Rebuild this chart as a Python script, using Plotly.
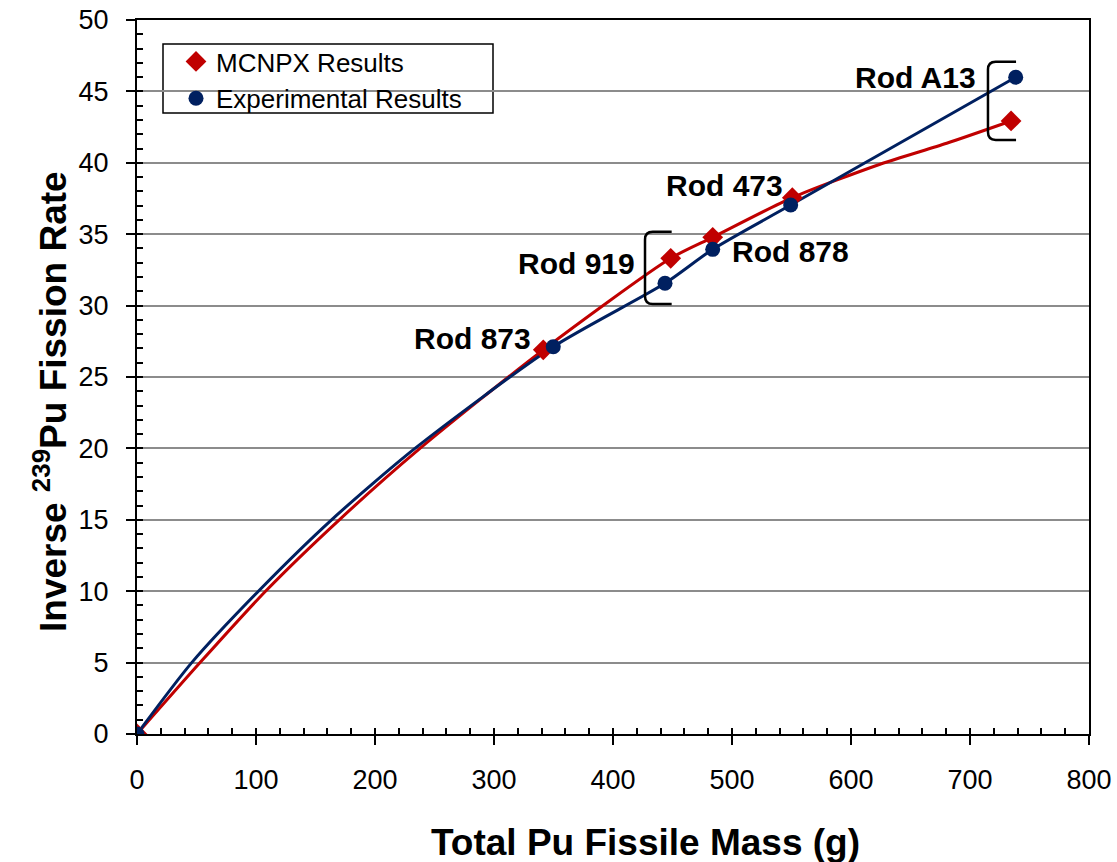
import plotly.graph_objects as go

# ---- data ----
rods = ["Origin", "Rod 873", "Rod 919", "Rod 878", "Rod 473", "Rod A13"]
mcnpx_mass = [0, 341.4, 448.5, 483.8, 550.7, 734.5]
mcnpx_rate = [0, 26.9, 33.31, 34.78, 37.56, 42.93]
exp_mass = [0, 349.8, 443.7, 483.8, 549.3, 738.4]
exp_rate = [0, 27.12, 31.56, 33.94, 37.04, 45.99]

# smoothed curves
mcnpx_curve_x = [0, 53, 108, 170, 237.8, 341.4, 448.5, 483.8, 550.7, 624.4, 680.4, 734.5]
mcnpx_curve_y = [0, 5, 10, 15, 20, 26.9, 33.31, 34.78, 37.56, 39.9, 41.37, 42.93]
exp_curve_x = [0, 46, 102, 163.5, 233.6, 349.8, 443.7, 483.8, 549.3, 738.4]
exp_curve_y = [0, 5, 10, 15, 20, 27.12, 31.56, 33.94, 37.04, 45.99]

x_ticks = [0, 100, 200, 300, 400, 500, 600, 700, 800]
y_ticks = [0, 5, 10, 15, 20, 25, 30, 35, 40, 45, 50]

RED = "#C00000"
BLUE = "#002060"
FONT = "Liberation Sans, Arial, sans-serif"

W, H = 1117, 862
L, R, T, B = 137, 28, 20, 128
pw, ph = W - L - R, H - T - B


def px_x(p):
    return (p - L) / pw


def px_y(p):
    return (H - B - p) / ph


fig = go.Figure()

fig.add_trace(go.Scatter(x=mcnpx_curve_x, y=mcnpx_curve_y, mode="lines",
                         line=dict(color=RED, width=3, shape="spline", smoothing=0.7),
                         showlegend=False, hoverinfo="skip"))
fig.add_trace(go.Scatter(x=exp_curve_x, y=exp_curve_y, mode="lines",
                         line=dict(color=BLUE, width=3, shape="spline", smoothing=0.7),
                         showlegend=False, hoverinfo="skip"))
fig.add_trace(go.Scatter(x=mcnpx_mass, y=mcnpx_rate, mode="markers", name="MCNPX Results",
                         marker=dict(symbol="diamond", size=16, color=RED)))
fig.add_trace(go.Scatter(x=exp_mass, y=exp_rate, mode="markers", name="Experimental Results",
                         marker=dict(symbol="circle", size=15, color=BLUE)))
# helper trace for inside (minor) tick axes
fig.add_trace(go.Scatter(x=[0], y=[0], xaxis="x2", yaxis="y2", showlegend=False,
                         mode="markers", marker=dict(opacity=0), hoverinfo="skip"))

# labels
label_specs = [
    # text, x, y, xanchor, xshift, yshift
    ("Rod 873", mcnpx_mass[1], mcnpx_rate[1], "right", -10, 11),
    ("Rod 919", mcnpx_mass[2], mcnpx_rate[2], "right", -34, -5),
    ("Rod 878", exp_mass[3], exp_rate[3], "left", 17, -2),
    ("Rod 473", mcnpx_mass[4], mcnpx_rate[4], "right", -7, 12),
    ("Rod A13", exp_mass[5], exp_rate[5], "right", -38, 0),
]
annotations = []
for text, ax_, ay_, xa, xs, ys in label_specs:
    annotations.append(dict(x=ax_, y=ay_, xref="x", yref="y", text="<b>%s</b>" % text,
                            showarrow=False, xanchor=xa, yanchor="middle", xshift=xs, yshift=ys,
                            font=dict(family=FONT, size=30, color="black")))

annotations.append(dict(x=px_x(645), y=px_y(843), xref="paper", yref="paper",
                        xanchor="center", yanchor="middle",
                        text="<b>Total Pu Fissile Mass (g)</b>",
                        showarrow=False, font=dict(family=FONT, size=37, color="black")))
annotations.append(dict(x=px_x(50), y=px_y(402), xref="paper", yref="paper", textangle=-90,
                        xanchor="center", yanchor="middle",
                        text="<b>Inverse <sup>239</sup>Pu Fission Rate</b>",
                        showarrow=False, font=dict(family=FONT, size=37, color="black")))


# brackets
def bracket(x0, x1, y0, y1, rx=6.5, ry=0.55):
    return ("M %f,%f L %f,%f Q %f,%f %f,%f L %f,%f Q %f,%f %f,%f L %f,%f" %
            (x1, y1, x0 + rx, y1, x0, y1, x0, y1 - ry, x0, y0 + ry, x0, y0, x0 + rx, y0, x1, y0))


shapes = [
    dict(type="path", xref="x", yref="y", path=bracket(426.9, 449.3, 30.11, 35.17),
         line=dict(color="black", width=2.5)),
    dict(type="path", xref="x", yref="y", path=bracket(715.1, 738.7, 41.6, 47.08),
         line=dict(color="black", width=2.5)),
    # legend box
    dict(type="rect", xref="paper", yref="paper", layer="between",
         x0=px_x(163), x1=px_x(493), y0=px_y(113), y1=px_y(44),
         fillcolor="white", line=dict(color="black", width=1.5)),
]

fig.update_layout(
    width=W, height=H,
    margin=dict(l=L, r=R, t=T, b=B, autoexpand=False),
    paper_bgcolor="white", plot_bgcolor="white",
    font=dict(family=FONT, size=26, color="black"),
    showlegend=True,
    legend=dict(x=px_x(166), y=px_y(38), xanchor="left", yanchor="top",
                bgcolor="rgba(0,0,0,0)", borderwidth=0,
                font=dict(family=FONT, size=26, color="black"),
                tracegroupgap=0, itemwidth=30, indentation=10),
    xaxis=dict(range=[0, 800], tickvals=x_ticks, ticktext=[str(v) for v in x_ticks],
               ticks="outside", ticklen=9, tickwidth=2, tickcolor="black",
               showline=True, linewidth=2, linecolor="black", mirror=True,
               showgrid=False, zeroline=False, ticklabelstandoff=12, automargin=False,
               tickfont=dict(family=FONT, size=27, color="black")),
    yaxis=dict(range=[0, 50], tickvals=y_ticks, ticktext=[str(v) for v in y_ticks],
               ticks="outside", ticklen=9, tickwidth=2, tickcolor="black",
               showline=True, linewidth=2, linecolor="black", mirror=True,
               showgrid=True, gridcolor="#8c8c8c", gridwidth=2, zeroline=False,
               ticklabelstandoff=12, automargin=False,
               tickfont=dict(family=FONT, size=27, color="black")),
    xaxis2=dict(range=[0, 800], overlaying="x", anchor="y", side="bottom",
                tick0=0, dtick=20, ticks="inside", ticklen=6, tickwidth=2, tickcolor="black",
                showticklabels=False, showline=False, showgrid=False, zeroline=False,
                automargin=False),
    yaxis2=dict(range=[0, 50], overlaying="y", anchor="x", side="left",
                tick0=0, dtick=1, ticks="inside", ticklen=6, tickwidth=2, tickcolor="black",
                showticklabels=False, showline=False, showgrid=False, zeroline=False,
                automargin=False),
    annotations=annotations,
    shapes=shapes,
)

fig.write_html("out.html")
